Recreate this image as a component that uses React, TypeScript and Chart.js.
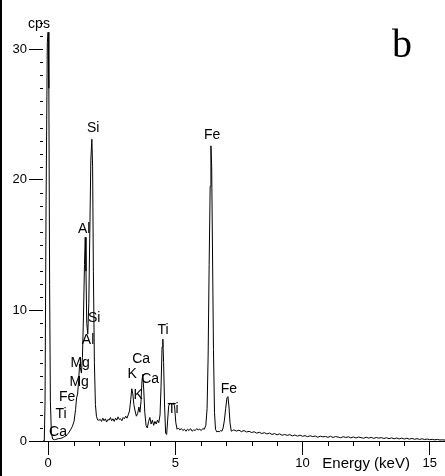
import React, { useEffect, useRef } from "react";
import { Chart, registerables } from "chart.js";

Chart.register(...registerables);

// ---- Data ----
const energyKeV = [
  -0.2, -0.15, -0.12, -0.08, -0.03, 0.0, 0.03, 0.06, 0.09, 0.13, 0.18,
  0.25, 0.3, 0.4, 0.5, 0.6, 0.7, 0.8, 0.88, 0.95, 1.02, 1.08, 1.12,
  1.16, 1.2, 1.24, 1.27, 1.31, 1.35, 1.39, 1.43, 1.46, 1.49, 1.52, 1.56,
  1.6, 1.64, 1.68, 1.72, 1.75, 1.78, 1.82, 1.86, 1.9, 1.95, 2.0,
  2.05, 2.1, 2.15, 2.2, 2.25, 2.3, 2.35, 2.4, 2.45, 2.5, 2.55, 2.6, 2.65,
  2.7, 2.75, 2.8, 2.85, 2.9, 2.95, 3.0, 3.05, 3.1, 3.15,
  3.2, 3.25, 3.29, 3.33, 3.37, 3.42, 3.47, 3.52, 3.57, 3.61, 3.65, 3.69,
  3.72, 3.76, 3.8, 3.85, 3.9, 3.95, 4.0, 4.05, 4.1, 4.15, 4.2, 4.25, 4.3,
  4.35, 4.4, 4.44, 4.48, 4.51, 4.54, 4.58, 4.62, 4.66, 4.7, 4.74, 4.8,
  4.86, 4.92, 4.97, 5.02, 5.07, 5.12, 5.18, 5.24, 5.3, 5.36, 5.42, 5.48,
  5.54, 5.6, 5.66, 5.72, 5.78, 5.84, 5.9, 5.96, 6.02, 6.08, 6.14, 6.2,
  6.25, 6.29, 6.33, 6.37, 6.4, 6.43, 6.46, 6.5, 6.54, 6.58, 6.63, 6.68,
  6.73, 6.78, 6.83, 6.88, 6.93, 6.98, 7.03, 7.07, 7.11, 7.15, 7.2, 7.25,
  7.3, 7.4, 7.5, 7.6, 7.7, 7.8, 7.9, 8.0, 8.1, 8.2, 8.3, 8.4, 8.5, 8.6,
  8.7, 8.8, 8.9, 9.0, 9.1, 9.2, 9.3, 9.4, 9.5, 9.6, 9.7, 9.8, 9.9, 10.0,
  10.1, 10.2, 10.3, 10.4, 10.5, 10.6, 10.7, 10.8, 10.9, 11.0, 11.1, 11.2,
  11.3, 11.4, 11.5, 11.6, 11.7, 11.8, 11.9, 12.0, 12.1, 12.2, 12.3, 12.4,
  12.5, 12.6, 12.7, 12.8, 12.9, 13.0, 13.1, 13.2, 13.3, 13.4, 13.5, 13.6,
  13.7, 13.8, 13.9, 14.0, 14.1, 14.2, 14.3, 14.4, 14.5, 14.6, 14.7, 14.8,
  14.9, 15.0, 15.1, 15.2, 15.3, 15.4, 15.5, 15.6,
];

const countsCps = [
  0.0, 0.0, 3.0, 18.0, 30.5, 31.3, 27.0, 12.0, 3.0, 0.6, 0.15,
  0.1, 0.12, 0.18, 0.2, 0.28, 0.4, 0.6, 0.85, 1.1, 1.5, 2.4, 3.3,
  3.6, 4.6, 5.9, 5.6, 5.2, 6.4, 9.5, 13.5, 15.6, 13.0, 9.0, 8.2,
  10.5, 16.0, 21.5, 23.1, 21.0, 13.0, 6.0, 2.8, 1.9, 1.6, 1.6,
  1.65, 1.5, 1.75, 1.55, 1.7, 1.45, 1.65, 1.6, 1.8, 1.55, 1.7, 1.5, 1.75,
  1.6, 1.85, 1.65, 1.7, 1.55, 1.8, 1.7, 1.9, 1.75, 2.0,
  2.3, 3.2, 4.0, 3.6, 2.8, 2.3, 1.9, 2.1, 2.6, 2.2, 3.0, 4.6,
  5.1, 3.9, 2.2, 1.2, 1.0, 1.5, 1.8, 1.3, 1.6, 1.2, 1.5, 1.3, 1.6,
  1.4, 2.0, 4.2, 7.2, 7.8, 6.0, 2.6, 0.6, 0.5, 1.6, 2.7, 2.9,
  2.8, 2.9, 2.7, 1.4, 0.9, 1.0, 0.85, 0.95, 0.8, 0.9, 0.75, 0.9,
  0.8, 0.95, 0.75, 0.85, 0.8, 0.95, 0.85, 0.9, 0.8, 0.95, 0.9, 1.2,
  2.5, 6.5, 13.5, 19.5, 22.6, 21.0, 15.0, 7.0, 2.2, 0.9, 0.7, 0.75,
  0.7, 0.8, 0.75, 1.0, 1.6, 2.5, 3.3, 3.4, 2.6, 1.4, 0.75, 0.8,
  0.85, 0.76, 0.83, 0.72, 0.8, 0.69, 0.74, 0.65, 0.71, 0.6, 0.67, 0.57, 0.64, 0.54,
  0.61, 0.5, 0.57, 0.47, 0.55, 0.44, 0.5, 0.43, 0.49, 0.39, 0.46, 0.37, 0.45, 0.36,
  0.41, 0.33, 0.4, 0.34, 0.38, 0.29, 0.37, 0.32, 0.35, 0.28, 0.36, 0.27,
  0.34, 0.3, 0.25, 0.33, 0.27, 0.32, 0.24, 0.31, 0.23, 0.3, 0.26, 0.21,
  0.29, 0.22, 0.28, 0.2, 0.27, 0.22, 0.26, 0.19, 0.25, 0.18, 0.24, 0.17,
  0.23, 0.16, 0.22, 0.15, 0.21, 0.14, 0.2, 0.13, 0.18, 0.12, 0.17, 0.11,
  0.15, 0.1, 0.13, 0.09, 0.12, 0.08, 0.09, 0.07,
];

const xTickValues = [0, 5, 10, 15];
const yTickValues = [0, 10, 20, 30];

const peakLabels = [
  "Ca", "Ti", "Fe", "Mg", "Mg", "Al", "Si", "Al", "Si",
  "Ca", "K", "Ca", "K", "Ti", "Ti", "Fe", "Fe",
];
const peakLabelEnergy = [
  0.39, 0.51, 0.75, 1.22, 1.26, 1.57, 1.81, 1.42, 1.77,
  3.66, 3.3, 4.01, 3.54, 4.52, 4.91, 6.45, 7.11,
];
const peakLabelCps = [
  0.69, 2.07, 3.37, 4.5, 5.97, 7.73, 9.42, 16.2, 23.97,
  6.28, 5.1, 4.75, 3.52, 8.5, 2.45, 23.43, 3.98,
];

const xAxisTitle = "Energy (keV)";
const yAxisTitle = "cps";
const panelLetter = "b";

const SANS = "'Liberation Sans', Arial, sans-serif";

const overlayPlugin = {
  id: "edsOverlay",
  afterDraw(chart: any) {
    const { ctx, chartArea } = chart;
    const xs = chart.scales.x;
    const ys = chart.scales.y;
    ctx.save();
    ctx.strokeStyle = "#000";
    ctx.fillStyle = "#000";
    ctx.lineWidth = 1;

    // minor y ticks (every 1 cps)
    for (let v = 1; v <= 32; v++) {
      if (v % 10 === 0) continue;
      const py = Math.round(ys.getPixelForValue(v)) + 0.5;
      ctx.beginPath();
      ctx.moveTo(chartArea.left - 3, py);
      ctx.lineTo(chartArea.left, py);
      ctx.stroke();
    }
    // minor x ticks (every 1 keV)
    for (let v = 1; v <= 15; v++) {
      if (v % 5 === 0) continue;
      const px = Math.round(xs.getPixelForValue(v)) + 0.5;
      ctx.beginPath();
      ctx.moveTo(px, chartArea.bottom);
      ctx.lineTo(px, chartArea.bottom + 5);
      ctx.stroke();
    }

    // peak labels
    ctx.font = `14px ${SANS}`;
    ctx.textAlign = "center";
    ctx.textBaseline = "middle";
    peakLabels.forEach((t, i) => {
      ctx.fillText(
        t,
        xs.getPixelForValue(peakLabelEnergy[i]),
        ys.getPixelForValue(peakLabelCps[i])
      );
    });

    // axis titles
    ctx.textBaseline = "alphabetic";
    ctx.font = `14px ${SANS}`;
    ctx.fillText(yAxisTitle, chartArea.left - 4, ys.getPixelForValue(31.6));
    ctx.font = `15px ${SANS}`;
    ctx.fillText(xAxisTitle, xs.getPixelForValue(12.5), chartArea.bottom + 27);

    // panel letter
    ctx.font = "40px 'Liberation Serif', 'Times New Roman', serif";
    ctx.fillText(panelLetter, chartArea.right - 43, chartArea.top + 47);

    // left frame edge
    ctx.fillRect(0, 0, 2, chart.height);
    ctx.restore();
  },
};

export default function App() {
  const canvasRef = useRef<HTMLCanvasElement | null>(null);

  useEffect(() => {
    const canvas = canvasRef.current;
    if (!canvas) return;
    const points = energyKeV.map((x, i) => ({ x, y: countsCps[i] }));
    const chart = new Chart(canvas, {
      type: "line",
      data: {
        datasets: [
          {
            data: points,
            borderColor: "#000",
            borderWidth: 1,
            pointRadius: 0,
            fill: false,
            tension: 0,
          },
        ],
      },
      options: {
        animation: false,
        responsive: false,
        devicePixelRatio: 1,
        layout: { padding: { top: 10, left: 0, right: 0, bottom: 0 } },
        plugins: {
          legend: { display: false },
          tooltip: { enabled: false },
        },
        scales: {
          x: {
            type: "linear",
            min: -0.2,
            max: 15.6,
            afterFit: (s: any) => {
              s.height = 35;
            },
            afterBuildTicks: (s: any) => {
              s.ticks = xTickValues.map((v) => ({ value: v }));
            },
            border: { display: true, color: "#000", width: 1 },
            grid: {
              drawOnChartArea: false,
              drawTicks: true,
              tickLength: 14,
              color: "#000",
              lineWidth: 1,
            },
            ticks: {
              color: "#000",
              font: { family: SANS, size: 13 },
              padding: 1,
              maxRotation: 0,
              autoSkip: false,
              callback: (v: any) => String(v),
            },
          },
          y: {
            type: "linear",
            min: 0,
            max: 33,
            afterFit: (s: any) => {
              s.width = 43;
            },
            afterBuildTicks: (s: any) => {
              s.ticks = yTickValues.map((v) => ({ value: v }));
            },
            border: { display: false },
            grid: {
              drawOnChartArea: false,
              drawTicks: true,
              tickLength: 14,
              color: "#000",
              lineWidth: 1,
            },
            ticks: {
              color: "#000",
              font: { family: SANS, size: 13 },
              padding: 2,
              autoSkip: false,
              callback: (v: any) => String(v),
            },
          },
        },
      },
      plugins: [overlayPlugin],
    });
    return () => chart.destroy();
  }, []);

  return (
    <div
      style={{
        position: "absolute",
        left: 0,
        top: 0,
        width: 445,
        height: 476,
        background: "#fff",
      }}
    >
      <canvas ref={canvasRef} width={445} height={476} />
    </div>
  );
}
